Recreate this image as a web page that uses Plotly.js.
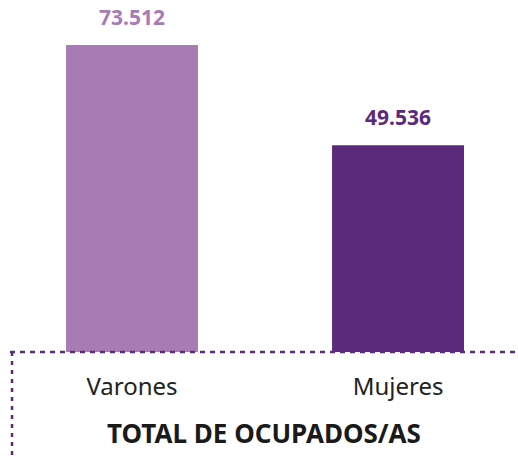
<!DOCTYPE html>
<html><head><meta charset="utf-8">
<script src="https://cdn.plot.ly/plotly-3.0.1.min.js"></script>
<style>html,body{margin:0;padding:0;background:#fff}</style>
</head><body>
<div id="chart" style="width:518px;height:459px"></div>
<script>
const categories = ["Varones", "Mujeres"];
const values = [73512, 49536];
const labels = ["73.512", "49.536"];
const colors = ["#a87bb5", "#5b2a7a"];
const axisTitle = "TOTAL DE OCUPADOS/AS";

const trace = {
  type: "bar",
  x: categories,
  y: values,
  width: 0.496,
  marker: {color: colors},
  hoverinfo: "none"
};

const annotations = categories.map((c, i) => ({
  x: c, y: values[i], xref: "x", yref: "y",
  text: "<b>" + labels[i] + "</b>",
  showarrow: false, yanchor: "bottom", yshift: 12,
  font: {family: "Noto Sans, Open Sans, sans-serif", size: 21, color: colors[i]}
}));

const layout = {
  width: 518, height: 459,
  margin: {l: 10, r: 0, t: 45, b: 107},
  paper_bgcolor: "#fff", plot_bgcolor: "#fff",
  showlegend: false,
  xaxis: {
    range: [-0.4586, 1.451],
    showline: false, showgrid: false, zeroline: false,
    ticks: "", ticklabelstandoff: 18,
    tickfont: {family: "Noto Sans, Open Sans, sans-serif", size: 24, color: "#222"},
    title: {text: "<b>" + axisTitle + "</b>", standoff: 23,
      font: {family: "Noto Sans, Open Sans, sans-serif", size: 26, color: "#1a1a1a"}},
    automargin: false, fixedrange: true
  },
  yaxis: {
    range: [0, values[0]], visible: false, fixedrange: true
  },
  annotations: annotations,
  shapes: [
    {type: "line", xref: "paper", yref: "paper", x0: 0, x1: 1, y0: 0, y1: 0,
     line: {color: "#5b2a7a", width: 2.5, dash: "5px,5px"}},
    {type: "line", xref: "paper", yref: "paper", x0: 0.004, x1: 0.004, y0: 0, y1: -107/307,
     line: {color: "#5b2a7a", width: 2.5, dash: "4px,5px"}}
  ]
};

Plotly.newPlot("chart", [trace], layout, {displayModeBar: false, staticPlot: true});
</script>
</body></html>
